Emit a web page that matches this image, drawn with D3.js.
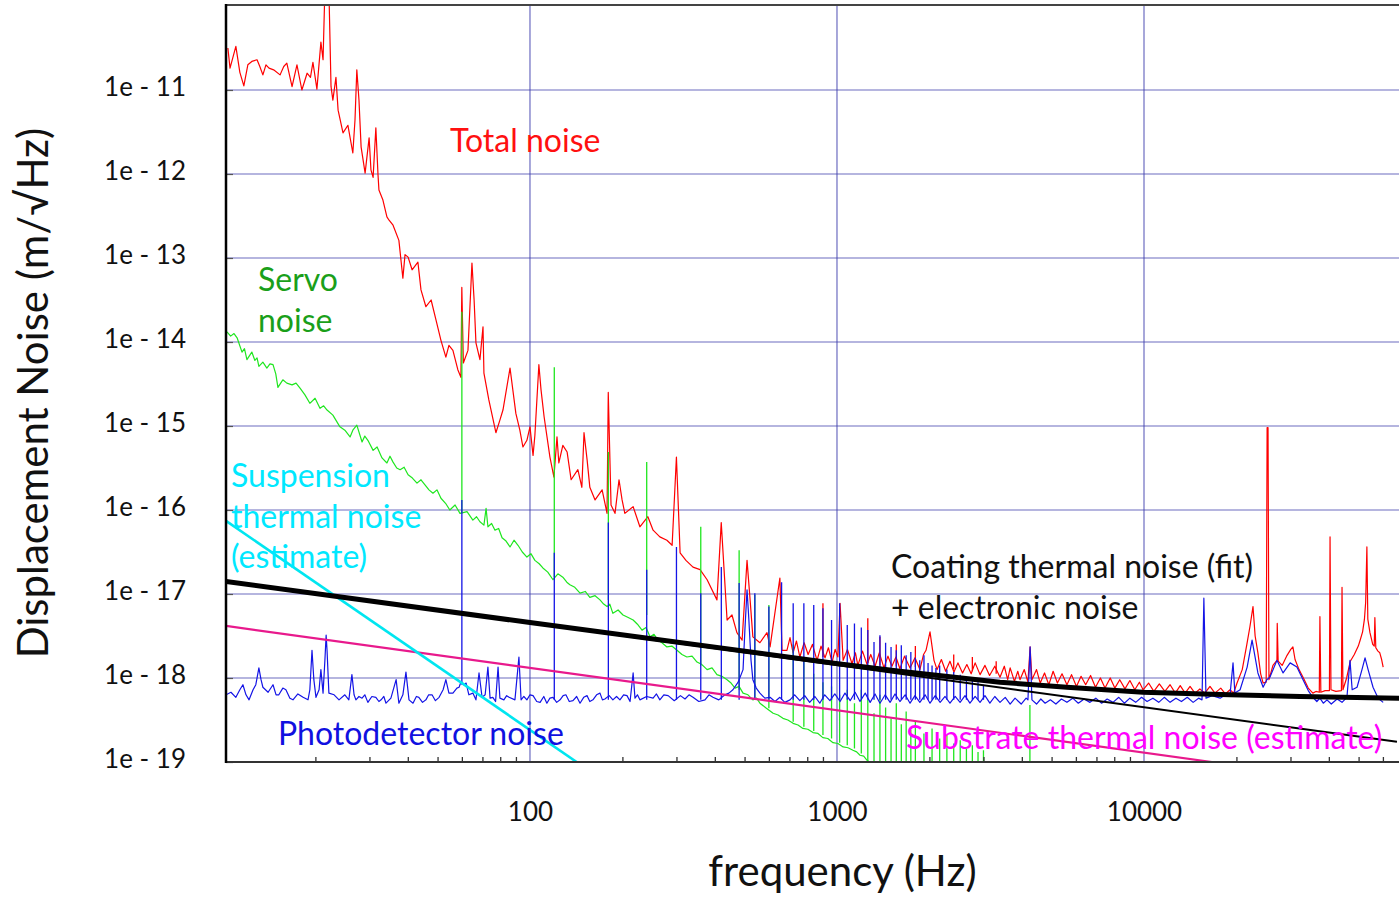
<!doctype html>
<html>
<head>
  <meta charset="utf-8">
  <title>displacement noise</title>
  <script src="https://d3js.org/d3.v7.min.js"></script>
  <style>
    body { margin: 0; background: #fff; }
    svg { display: block; font-family: Lato, "Open Sans", sans-serif; }
  </style>
</head>
<body>
<svg id="chart"></svg>
<script>
// traces: [log10 frequency (Hz), log10 displacement noise (m/√Hz)]
const totalNoise = [[1.016,-10.50],[1.023,-10.74],[1.042,-10.48],[1.055,-10.79],[1.068,-10.95],[1.081,-10.70],[1.094,-10.66],[1.111,-10.64],[1.120,-10.72],[1.130,-10.82],[1.140,-10.70],[1.150,-10.74],[1.165,-10.76],[1.186,-10.82],[1.198,-10.72],[1.208,-10.68],[1.225,-10.96],[1.241,-10.70],[1.257,-11.00],[1.274,-10.80],[1.285,-10.85],[1.293,-10.67],[1.306,-10.99],[1.319,-10.43],[1.326,-10.64],[1.332,-9.8],[1.345,-9.8],[1.352,-10.96],[1.358,-11.12],[1.368,-10.85],[1.375,-11.24],[1.391,-11.51],[1.407,-11.42],[1.423,-11.75],[1.430,-11.36],[1.436,-10.76],[1.443,-11.12],[1.450,-11.68],[1.463,-11.99],[1.476,-11.57],[1.482,-11.95],[1.489,-12.04],[1.498,-11.45],[1.505,-12.01],[1.508,-12.19],[1.521,-12.31],[1.534,-12.51],[1.541,-12.55],[1.554,-12.61],[1.573,-12.79],[1.586,-13.24],[1.593,-12.96],[1.603,-12.99],[1.616,-13.14],[1.635,-13.05],[1.645,-13.38],[1.661,-13.58],[1.678,-13.50],[1.694,-13.74],[1.710,-13.98],[1.726,-14.18],[1.736,-14.04],[1.749,-14.10],[1.765,-14.33],[1.775,-14.42],[1.778,-13.35],[1.783,-14.25],[1.798,-14.10],[1.811,-13.06],[1.818,-13.50],[1.824,-14.01],[1.837,-14.21],[1.847,-13.82],[1.850,-14.37],[1.866,-14.69],[1.889,-15.08],[1.902,-14.93],[1.912,-14.81],[1.935,-14.31],[1.954,-14.85],[1.967,-15.05],[1.977,-15.25],[1.990,-15.17],[2.000,-15.01],[2.010,-15.35],[2.016,-15.11],[2.029,-14.27],[2.036,-14.57],[2.046,-14.89],[2.065,-15.37],[2.078,-15.61],[2.088,-15.13],[2.094,-15.44],[2.107,-15.23],[2.121,-15.31],[2.134,-15.64],[2.156,-15.52],[2.169,-15.73],[2.176,-15.08],[2.186,-15.40],[2.195,-15.73],[2.212,-15.88],[2.235,-15.76],[2.251,-16.04],[2.255,-14.60],[2.264,-15.94],[2.277,-16.04],[2.290,-15.64],[2.300,-15.88],[2.309,-16.04],[2.336,-15.96],[2.358,-16.20],[2.384,-16.08],[2.401,-16.24],[2.423,-16.32],[2.446,-16.36],[2.463,-16.42],[2.477,-15.37],[2.489,-16.51],[2.508,-16.60],[2.531,-16.68],[2.554,-16.71],[2.577,-16.83],[2.609,-17.07],[2.623,-16.15],[2.642,-17.31],[2.658,-17.25],[2.674,-17.46],[2.691,-17.55],[2.707,-16.60],[2.717,-17.07],[2.726,-17.51],[2.749,-17.58],[2.772,-17.46],[2.782,-17.63],[2.814,-16.81],[2.821,-17.67],[2.837,-17.67],[2.847,-17.52],[2.857,-17.70],[2.868,-17.56],[2.879,-17.75],[2.893,-17.58],[2.906,-17.72],[2.920,-17.60],[2.935,-17.79],[2.948,-17.62],[2.961,-17.76],[2.972,-17.64],[2.984,-17.81],[2.994,-17.66],[3.003,-17.75],[3.010,-17.11],[3.020,-17.79],[3.034,-17.66],[3.049,-17.83],[3.060,-17.70],[3.068,-17.85],[3.083,-17.68],[3.098,-17.84],[3.110,-17.72],[3.124,-17.86],[3.138,-17.70],[3.153,-17.88],[3.166,-17.74],[3.179,-17.86],[3.192,-17.75],[3.205,-17.89],[3.220,-17.74],[3.238,-17.88],[3.254,-17.76],[3.270,-17.90],[3.282,-17.72],[3.290,-17.67],[3.303,-17.45],[3.316,-17.79],[3.326,-17.90],[3.340,-17.78],[3.354,-17.92],[3.368,-17.80],[3.381,-17.93],[3.394,-17.82],[3.409,-17.94],[3.423,-17.84],[3.437,-17.95],[3.450,-17.82],[3.466,-17.96],[3.482,-17.85],[3.497,-17.97],[3.514,-17.86],[3.531,-17.99],[3.545,-17.86],[3.556,-18.02],[3.564,-17.88],[3.578,-18.04],[3.589,-17.92],[3.596,-18.02],[3.610,-17.90],[3.622,-18.05],[3.629,-17.63],[3.635,-18.02],[3.650,-17.90],[3.662,-18.06],[3.676,-17.94],[3.690,-18.08],[3.704,-17.92],[3.718,-18.06],[3.733,-17.95],[3.749,-18.08],[3.764,-17.96],[3.780,-18.10],[3.795,-17.98],[3.810,-18.08],[3.826,-17.97],[3.842,-18.11],[3.858,-18.00],[3.873,-18.12],[3.890,-18.00],[3.905,-18.12],[3.921,-18.02],[3.938,-18.13],[3.954,-18.03],[3.970,-18.14],[3.985,-18.05],[3.997,-18.14],[4.015,-18.06],[4.032,-18.16],[4.050,-18.07],[4.068,-18.16],[4.085,-18.08],[4.102,-18.18],[4.118,-18.09],[4.134,-18.18],[4.150,-18.10],[4.166,-18.18],[4.182,-18.13],[4.198,-18.18],[4.215,-18.10],[4.231,-18.18],[4.250,-18.12],[4.265,-18.19],[4.280,-18.14],[4.292,-18.18],[4.303,-18.06],[4.320,-17.90],[4.335,-17.60],[4.345,-17.39],[4.355,-17.15],[4.362,-17.50],[4.371,-17.70],[4.380,-17.95],[4.388,-18.06],[4.398,-18.05],[4.401,-15.02],[4.404,-15.02],[4.407,-18.02],[4.420,-17.85],[4.433,-17.79],[4.434,-17.35],[4.437,-17.80],[4.450,-17.85],[4.466,-17.73],[4.478,-17.66],[4.485,-17.63],[4.492,-17.78],[4.505,-17.90],[4.518,-17.99],[4.535,-18.12],[4.550,-18.18],[4.560,-18.16],[4.571,-18.17],[4.573,-17.27],[4.576,-18.17],[4.590,-18.15],[4.604,-18.15],[4.606,-16.32],[4.609,-18.14],[4.625,-18.16],[4.643,-18.15],[4.645,-16.92],[4.648,-18.14],[4.660,-18.00],[4.672,-17.80],[4.685,-17.72],[4.698,-17.62],[4.704,-17.55],[4.712,-17.45],[4.718,-17.30],[4.722,-17.10],[4.726,-16.44],[4.729,-17.30],[4.736,-17.46],[4.745,-17.60],[4.750,-17.62],[4.752,-17.28],[4.755,-17.64],[4.762,-17.68],[4.768,-17.70],[4.774,-17.78],[4.779,-17.87]];

const servoNoise = [[1.013,-13.88],[1.025,-13.93],[1.036,-13.90],[1.046,-13.95],[1.062,-14.12],[1.070,-14.08],[1.078,-14.21],[1.094,-14.12],[1.104,-14.22],[1.111,-14.19],[1.117,-14.29],[1.130,-14.24],[1.143,-14.31],[1.153,-14.26],[1.163,-14.27],[1.172,-14.38],[1.179,-14.54],[1.195,-14.45],[1.208,-14.49],[1.225,-14.51],[1.238,-14.49],[1.251,-14.55],[1.267,-14.63],[1.283,-14.73],[1.300,-14.67],[1.316,-14.79],[1.328,-14.76],[1.339,-14.81],[1.358,-14.87],[1.381,-15.01],[1.397,-15.05],[1.414,-15.13],[1.423,-15.05],[1.436,-14.99],[1.453,-15.19],[1.462,-15.12],[1.472,-15.17],[1.489,-15.29],[1.502,-15.25],[1.518,-15.38],[1.534,-15.44],[1.544,-15.36],[1.554,-15.43],[1.566,-15.50],[1.577,-15.52],[1.590,-15.49],[1.603,-15.58],[1.617,-15.62],[1.632,-15.68],[1.645,-15.64],[1.658,-15.70],[1.671,-15.76],[1.684,-15.80],[1.697,-15.76],[1.710,-15.86],[1.725,-15.92],[1.739,-16.00],[1.756,-15.94],[1.772,-16.04],[1.795,-16.02],[1.814,-16.12],[1.826,-16.08],[1.837,-16.14],[1.850,-16.18],[1.857,-15.98],[1.863,-16.20],[1.875,-16.16],[1.886,-16.24],[1.898,-16.22],[1.909,-16.33],[1.922,-16.37],[1.935,-16.44],[1.948,-16.36],[1.961,-16.42],[1.975,-16.50],[1.990,-16.56],[2.003,-16.52],[2.016,-16.60],[2.030,-16.64],[2.042,-16.69],[2.058,-16.74],[2.075,-16.83],[2.091,-16.76],[2.107,-16.80],[2.120,-16.86],[2.130,-16.89],[2.146,-16.92],[2.163,-16.99],[2.180,-16.97],[2.195,-17.04],[2.212,-17.02],[2.228,-17.07],[2.240,-17.12],[2.251,-17.15],[2.260,-17.12],[2.270,-17.23],[2.287,-17.19],[2.303,-17.25],[2.320,-17.28],[2.336,-17.31],[2.350,-17.36],[2.365,-17.43],[2.378,-17.40],[2.391,-17.51],[2.404,-17.48],[2.417,-17.55],[2.430,-17.58],[2.446,-17.63],[2.462,-17.62],[2.479,-17.67],[2.495,-17.72],[2.511,-17.75],[2.528,-17.74],[2.544,-17.81],[2.560,-17.84],[2.577,-17.90],[2.593,-17.88],[2.609,-17.96],[2.625,-17.98],[2.642,-18.02],[2.655,-18.06],[2.668,-18.12],[2.681,-18.10],[2.694,-18.18],[2.710,-18.20],[2.726,-18.26],[2.738,-18.24],[2.749,-18.30],[2.770,-18.36],[2.792,-18.42],[2.808,-18.44],[2.824,-18.48],[2.840,-18.50],[2.857,-18.54],[2.873,-18.56],[2.889,-18.60],[2.905,-18.61],[2.922,-18.65],[2.938,-18.66],[2.954,-18.71],[2.970,-18.72],[2.987,-18.77],[3.003,-18.78],[3.020,-18.82],[3.036,-18.83],[3.052,-18.86],[3.064,-18.88],[3.075,-18.92],[3.087,-18.93],[3.098,-18.98],[3.124,-19.05],[3.205,-19.15],[3.368,-19.27],[3.531,-19.33]];

const photodetectorNoise = [[1.010,-18.20],[1.026,-18.17],[1.042,-18.23],[1.055,-18.14],[1.065,-18.08],[1.075,-18.20],[1.085,-18.26],[1.098,-18.14],[1.107,-18.08],[1.117,-17.88],[1.124,-18.02],[1.130,-18.11],[1.147,-18.17],[1.163,-18.08],[1.173,-18.20],[1.182,-18.20],[1.195,-18.12],[1.205,-18.14],[1.218,-18.24],[1.228,-18.26],[1.244,-18.19],[1.261,-18.23],[1.277,-18.26],[1.283,-18.14],[1.290,-17.67],[1.296,-18.02],[1.303,-18.23],[1.313,-18.14],[1.319,-17.90],[1.326,-18.18],[1.332,-17.79],[1.336,-17.49],[1.339,-17.67],[1.345,-18.18],[1.362,-18.20],[1.378,-18.26],[1.397,-18.20],[1.410,-18.26],[1.420,-17.96],[1.427,-18.20],[1.433,-18.26],[1.443,-18.22],[1.453,-18.24],[1.462,-18.20],[1.472,-18.29],[1.485,-18.22],[1.498,-18.23],[1.508,-18.28],[1.515,-18.26],[1.524,-18.22],[1.531,-18.30],[1.547,-18.24],[1.564,-18.02],[1.573,-18.30],[1.586,-18.20],[1.596,-17.93],[1.606,-18.26],[1.619,-18.30],[1.630,-18.22],[1.638,-18.23],[1.650,-18.29],[1.661,-18.26],[1.670,-18.20],[1.681,-18.20],[1.692,-18.27],[1.704,-18.23],[1.717,-18.14],[1.726,-18.02],[1.736,-18.18],[1.749,-18.18],[1.762,-18.12],[1.769,-18.11],[1.775,-18.05],[1.785,-18.08],[1.792,-18.06],[1.801,-18.20],[1.814,-18.18],[1.824,-18.26],[1.834,-17.94],[1.844,-18.23],[1.854,-18.20],[1.863,-17.87],[1.870,-18.24],[1.879,-18.23],[1.888,-18.28],[1.896,-17.87],[1.902,-18.24],[1.915,-18.26],[1.924,-18.21],[1.932,-18.23],[1.951,-18.26],[1.964,-17.75],[1.971,-18.26],[1.980,-18.22],[1.990,-18.26],[2.000,-18.20],[2.010,-18.21],[2.022,-18.28],[2.033,-18.29],[2.045,-18.22],[2.055,-18.30],[2.065,-18.24],[2.075,-18.23],[2.087,-18.29],[2.098,-18.26],[2.108,-18.21],[2.117,-18.20],[2.128,-18.28],[2.140,-18.27],[2.152,-18.22],[2.163,-18.30],[2.175,-18.23],[2.186,-18.21],[2.195,-18.28],[2.205,-18.26],[2.217,-18.20],[2.228,-18.18],[2.236,-18.26],[2.244,-18.25],[2.258,-18.21],[2.270,-18.26],[2.282,-18.22],[2.293,-18.26],[2.305,-18.20],[2.316,-18.21],[2.326,-18.28],[2.336,-17.94],[2.342,-18.24],[2.350,-18.20],[2.358,-18.26],[2.380,-18.22],[2.401,-18.24],[2.412,-18.19],[2.423,-18.26],[2.436,-18.20],[2.450,-18.21],[2.470,-18.27],[2.490,-18.21],[2.505,-18.25],[2.518,-18.20],[2.531,-18.23],[2.550,-18.28],[2.570,-18.26],[2.583,-18.20],[2.596,-18.23],[2.615,-18.26],[2.635,-18.20],[2.648,-18.18],[2.661,-18.14],[2.678,-18.05],[2.694,-17.90],[2.700,-17.43],[2.707,-16.95],[2.713,-17.31],[2.720,-17.79],[2.726,-18.02],[2.737,-18.12],[2.749,-18.18],[2.765,-18.24],[2.782,-18.23],[2.798,-18.28],[2.814,-18.23],[2.830,-18.29],[2.847,-18.26],[2.862,-18.20],[2.879,-18.27],[2.895,-18.21],[2.911,-18.29],[2.928,-18.22],[2.944,-18.30],[2.960,-18.20],[2.977,-18.27],[2.993,-18.19],[3.010,-18.28],[3.026,-18.18],[3.043,-18.27],[3.059,-18.17],[3.075,-18.28],[3.092,-18.18],[3.108,-18.29],[3.124,-18.19],[3.140,-18.30],[3.157,-18.20],[3.173,-18.29],[3.189,-18.19],[3.205,-18.28],[3.222,-18.20],[3.238,-18.30],[3.254,-18.21],[3.270,-18.29],[3.287,-18.20],[3.303,-18.30],[3.320,-18.21],[3.336,-18.29],[3.352,-18.22],[3.368,-18.30],[3.385,-18.22],[3.401,-18.29],[3.417,-18.21],[3.433,-18.30],[3.450,-18.22],[3.466,-18.29],[3.482,-18.21],[3.498,-18.30],[3.514,-18.22],[3.531,-18.29],[3.548,-18.23],[3.564,-18.31],[3.580,-18.24],[3.600,-18.31],[3.616,-18.24],[3.622,-18.26],[3.629,-17.63],[3.635,-18.26],[3.650,-18.31],[3.664,-18.25],[3.678,-18.30],[3.695,-18.26],[3.713,-18.31],[3.731,-18.25],[3.749,-18.29],[3.768,-18.24],[3.786,-18.30],[3.805,-18.25],[3.824,-18.29],[3.843,-18.24],[3.862,-18.30],[3.880,-18.25],[3.899,-18.29],[3.918,-18.23],[3.936,-18.30],[3.954,-18.24],[3.973,-18.29],[3.992,-18.23],[4.010,-18.28],[4.029,-18.24],[4.048,-18.29],[4.066,-18.23],[4.085,-18.29],[4.104,-18.24],[4.122,-18.28],[4.141,-18.23],[4.160,-18.29],[4.178,-18.24],[4.189,-18.26],[4.195,-17.05],[4.202,-18.24],[4.222,-18.21],[4.248,-18.24],[4.265,-18.20],[4.280,-18.21],[4.290,-17.82],[4.296,-18.18],[4.313,-18.14],[4.336,-17.87],[4.352,-17.55],[4.371,-17.94],[4.388,-18.11],[4.400,-18.02],[4.410,-17.99],[4.433,-17.79],[4.453,-17.94],[4.476,-17.82],[4.498,-17.87],[4.518,-18.02],[4.535,-18.15],[4.550,-18.23],[4.563,-18.28],[4.573,-18.24],[4.584,-18.30],[4.596,-18.26],[4.610,-18.31],[4.629,-18.25],[4.645,-18.29],[4.661,-18.23],[4.671,-17.79],[4.678,-18.14],[4.694,-18.11],[4.710,-17.90],[4.720,-17.76],[4.730,-17.90],[4.746,-18.11],[4.760,-18.22],[4.769,-18.26],[4.779,-18.29]];

// line harmonics: [frequency (Hz), log10 foot, log10 top]
const totalSpikes = [[900,-17.75,-17.11],[1260,-17.82,-17.29],[1380,-17.85,-17.51],[1560,-17.86,-17.60],[1800,-17.87,-17.62],[2400,-17.90,-17.72],[2760,-17.92,-17.75],[3300,-17.95,-17.80]];

const servoSpikes = [[60,-16.04,-13.64],[120,-16.80,-14.30],[180,-17.07,-15.31],[240,-17.25,-15.43],[360,-17.85,-16.20],[480,-18.14,-16.48],[540,-18.26,-17.01],[600,-18.36,-17.13],[720,-18.52,-17.60],[780,-18.58,-17.80],[840,-18.63,-17.95],[900,-18.68,-18.05],[960,-18.72,-18.10],[1020,-18.77,-18.20],[1080,-18.80,-18.14],[1140,-18.84,-18.30],[1200,-18.90,-18.14],[1260,-19.3,-18.26],[1320,-19.3,-18.42],[1380,-19.3,-18.20],[1440,-19.3,-18.35],[1500,-19.3,-18.48],[1560,-19.3,-18.30],[1620,-19.3,-18.55],[1680,-19.3,-18.40],[1740,-19.3,-18.62],[1800,-19.3,-18.52],[1920,-19.3,-18.66],[2040,-19.3,-18.60],[2160,-19.3,-18.72],[2280,-19.3,-18.68],[2400,-19.3,-18.78],[2520,-19.3,-18.74],[2640,-19.3,-18.84],[2760,-19.3,-18.80],[2880,-19.3,-18.88],[3000,-19.3,-18.86],[4250,-19.3,-18.32]];

const photodetectorSpikes = [[60,-18.08,-15.88],[120,-18.26,-16.51],[180,-18.26,-16.15],[240,-18.26,-16.71],[300,-18.26,-16.44],[360,-18.26,-16.99],[420,-18.26,-16.68],[480,-18.26,-16.87],[540,-18.26,-16.99],[600,-18.26,-17.15],[660,-18.26,-16.86],[720,-18.26,-17.11],[780,-18.26,-17.11],[840,-18.26,-17.13],[900,-18.26,-17.17],[960,-18.26,-17.31],[1020,-18.26,-17.11],[1080,-18.26,-17.37],[1140,-18.26,-17.35],[1200,-18.26,-17.40],[1260,-18.26,-17.43],[1320,-18.26,-17.57],[1380,-18.26,-17.49],[1440,-18.26,-17.58],[1500,-18.26,-17.63],[1560,-18.26,-17.67],[1620,-18.26,-17.61],[1680,-18.26,-17.73],[1740,-18.26,-17.69],[1800,-18.26,-17.76],[1860,-18.26,-17.79],[1920,-18.26,-17.73],[1980,-18.26,-17.82],[2040,-18.26,-17.85],[2100,-18.26,-17.88],[2160,-18.26,-17.85],[2280,-18.26,-17.90],[2400,-18.26,-17.93],[2520,-18.26,-17.96],[2640,-18.26,-18.00],[2760,-18.26,-18.02],[2880,-18.26,-18.05],[3000,-18.26,-18.08]];

// model curves: [log10 frequency (Hz), log10 noise]
const suspensionThermal = [[1.01,-16.13],[2.152,-19.0]];
const substrateThermal = [[1.01,-17.38],[4.221,-19.0]];
const coatingThermal = [[1.01,-16.85],[4.824,-18.76]];
const coatingPlusElectronic = [[1.01,-16.85],[2.0,-17.34],[3.003,-17.83],[3.205,-17.92],[3.531,-18.05],[3.749,-18.11],[3.997,-18.17],[4.28,-18.20],[4.508,-18.22],[4.831,-18.24]];

const xDomain = [10.23, 67700];
const yDomain = [1e-19, 1e-10];
const xMajorTicks = [100, 1000, 10000];
const xTickLabels = ['100', '1000', '10000'];
const xMinorTicks = [20,30,40,50,60,70,80,90,200,300,400,500,600,700,800,900,2000,3000,4000,5000,6000,7000,8000,9000,20000,30000,40000,50000,60000];
const yTicks = [1e-11,1e-12,1e-13,1e-14,1e-15,1e-16,1e-17,1e-18,1e-19];
const yTickLabels = ['1e - 11','1e - 12','1e - 13','1e - 14','1e - 15','1e - 16','1e - 17','1e - 18','1e - 19'];

const W = 1399, H = 897;
const plot = { left: 226, right: 1399, top: 6, bottom: 762 };

const svg = d3.select('#chart').attr('width', W).attr('height', H);
svg.append('rect').attr('width', W).attr('height', H).attr('fill', '#fff');

const x = d3.scaleLog().domain(xDomain).range([plot.left, plot.right]);
const y = d3.scaleLog().domain(yDomain).range([plot.bottom, plot.top]);

svg.append('clipPath').attr('id', 'clip')
  .append('rect')
  .attr('x', plot.left).attr('y', plot.top)
  .attr('width', plot.right - plot.left).attr('height', plot.bottom - plot.top);

// grid
const grid = svg.append('g').attr('stroke', '#3b3bab').attr('stroke-opacity', 0.75).attr('stroke-width', 1.2);
grid.selectAll('.gx').data(xMajorTicks).join('line')
  .attr('x1', d => x(d)).attr('x2', d => x(d))
  .attr('y1', plot.top).attr('y2', plot.bottom);
grid.selectAll('.gy').data(yTicks.slice(0, -1)).join('line')
  .attr('x1', plot.left).attr('x2', plot.right)
  .attr('y1', d => y(d)).attr('y2', d => y(d));

const plotArea = svg.append('g').attr('clip-path', 'url(#clip)');

const logLine = d3.line()
  .x(d => x(Math.pow(10, d[0])))
  .y(d => y(Math.pow(10, d[1])));

const spikePath = list => list
  .map(d => `M${x(d[0])},${y(Math.pow(10, d[1]))}V${y(Math.pow(10, d[2]))}`)
  .join('');

const traces = [
  { data: totalNoise, spikes: totalSpikes, color: '#ff0000' },
  { data: servoNoise, spikes: servoSpikes, color: '#1fe61f' },
  { data: photodetectorNoise, spikes: photodetectorSpikes, color: '#1414e6' }
];

traces.forEach(t => {
  plotArea.append('path')
    .attr('d', logLine(t.data))
    .attr('fill', 'none').attr('stroke', t.color)
    .attr('stroke-width', 1.2).attr('stroke-linejoin', 'round');
  plotArea.append('path')
    .attr('d', spikePath(t.spikes))
    .attr('fill', 'none').attr('stroke', t.color)
    .attr('stroke-width', 1.3);
});

const models = [
  { data: substrateThermal, color: '#e8198c', width: 2.2 },
  { data: suspensionThermal, color: '#00e6f0', width: 2.6 },
  { data: coatingThermal, color: '#000', width: 2 },
  { data: coatingPlusElectronic, color: '#000', width: 5 }
];
models.forEach(m => {
  plotArea.append('path')
    .attr('d', logLine(m.data))
    .attr('fill', 'none').attr('stroke', m.color)
    .attr('stroke-width', m.width).attr('stroke-linejoin', 'round');
});

// axes
const yAxis = d3.axisLeft(y).tickValues(yTicks)
  .tickFormat((d, i) => yTickLabels[i])
  .tickSizeInner(-7).tickSizeOuter(0).tickPadding(40);
const gy = svg.append('g').attr('transform', `translate(${plot.left},0)`).call(yAxis);
gy.select('.domain').remove();
gy.selectAll('.tick line').attr('stroke', '#555').attr('stroke-width', 1.2);
gy.selectAll('.tick text').attr('font-size', 26).attr('fill', '#111')
  .attr('font-family', 'Lato, sans-serif').attr('dy', '0.22em');

const xAxis = d3.axisBottom(x).tickValues(xMajorTicks)
  .tickFormat((d, i) => xTickLabels[i])
  .tickSize(0).tickPadding(41);
const gx = svg.append('g').attr('transform', `translate(0,${plot.bottom})`).call(xAxis);
gx.select('.domain').remove();
gx.selectAll('.tick text').attr('font-size', 26).attr('fill', '#111')
  .attr('font-family', 'Lato, sans-serif');

const xMinor = d3.axisBottom(x).tickValues(xMinorTicks).tickFormat('')
  .tickSizeInner(-5).tickSizeOuter(0);
const gxm = svg.append('g').attr('transform', `translate(0,${plot.bottom})`).call(xMinor);
gxm.select('.domain').remove();
gxm.selectAll('.tick line').attr('stroke', '#333').attr('stroke-width', 1.3);

// frame
svg.append('line').attr('x1', plot.left).attr('x2', plot.right)
  .attr('y1', plot.top - 1).attr('y2', plot.top - 1)
  .attr('stroke', '#444').attr('stroke-width', 2);
svg.append('line').attr('x1', plot.left).attr('x2', plot.right)
  .attr('y1', plot.bottom).attr('y2', plot.bottom)
  .attr('stroke', '#333').attr('stroke-width', 2);
svg.append('line').attr('x1', plot.left).attr('x2', plot.left)
  .attr('y1', plot.top - 2).attr('y2', plot.bottom + 1)
  .attr('stroke', '#000').attr('stroke-width', 2.5);

// axis titles
svg.append('text')
  .attr('x', (plot.left + plot.right) / 2 + 30).attr('y', 886)
  .attr('text-anchor', 'middle').attr('font-size', 42).attr('fill', '#111')
  .text('frequency (Hz)');
svg.append('text')
  .attr('transform', 'translate(48,393) rotate(-90)')
  .attr('text-anchor', 'middle').attr('font-size', 42).attr('fill', '#111')
  .text('Displacement Noise (m/√Hz)');

// curve labels
const labels = [
  { lines: ['Total noise'], x: 450, y: 152, color: '#ff1010' },
  { lines: ['Servo', 'noise'], x: 258, y: 291, color: '#1a9f1a' },
  { lines: ['Suspension', 'thermal noise', '(estimate)'], x: 231, y: 487, color: '#00e8ff' },
  { lines: ['Coating thermal noise (fit)', '+ electronic noise'], x: 891, y: 578, color: '#111' },
  { lines: ['Photodetector noise'], x: 278, y: 745, color: '#1010e0' },
  { lines: ['Substrate thermal noise (estimate)'], x: 906, y: 749, color: '#ff00ff' }
];
labels.forEach(l => {
  const t = svg.append('text').attr('x', l.x).attr('y', l.y)
    .attr('font-size', 32).attr('fill', l.color);
  l.lines.forEach((s, i) => {
    t.append('tspan').attr('x', l.x).attr('dy', i === 0 ? 0 : 40.5).text(s);
  });
});
</script>
</body>
</html>
